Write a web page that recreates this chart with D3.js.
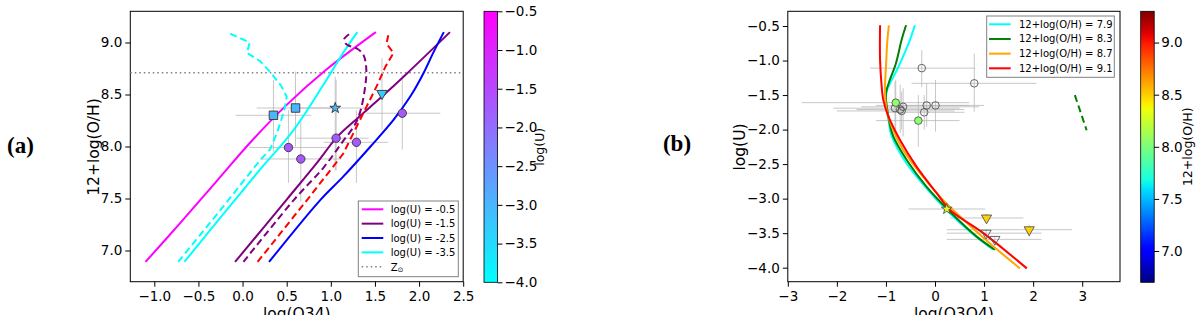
<!DOCTYPE html>
<html>
<head>
<meta charset="utf-8">
<script src="https://d3js.org/d3.v7.min.js"></script>
<style>
  body { margin: 0; background: #fff; }
  svg { display: block; font-family: 'DejaVu Sans', sans-serif; }
  .axis line { stroke: #000; }
  .axis text { fill: #000; font-size: 13.5px; font-family: 'DejaVu Sans', sans-serif; }
  .label { font-size: 15.5px; fill: #000; }
  .cblabel { font-size: 12.5px; fill: #000; }
  .legend text { font-size: 10px; fill: #000; }
  .err { stroke: #b4b4b4; stroke-opacity: 0.75; stroke-width: 1; fill: none; }
  .tag { font-family: 'Liberation Serif', serif; font-weight: bold; font-size: 23px; }
</style>
</head>
<body>
<svg id="chart" width="1200" height="315"></svg>
<script>
// ---- panel (a): log(O34) vs 12+log(O/H)
var aXTicks = [-1.0, -0.5, 0.0, 0.5, 1.0, 1.5, 2.0, 2.5];
var aYTicks = [7.0, 7.5, 8.0, 8.5, 9.0];
var uTicks = [-4.0, -3.5, -3.0, -2.5, -2.0, -1.5, -1.0, -0.5];
var zSun = 8.71;

var uMagenta = [[-1.10, 6.89], [-0.70, 7.27], [-0.30, 7.66], [0.10, 8.05], [0.50, 8.40], [0.95, 8.74], [1.51, 9.10]];
var uPurple = [[-0.085, 6.89], [0.50, 7.49], [0.84, 7.84], [1.07, 8.09], [1.30, 8.27], [1.58, 8.48], [1.86, 8.70], [2.35, 9.10]];
var uBlue = [[0.30, 6.89], [0.88, 7.485], [1.14, 7.71], [1.45, 8.00], [1.71, 8.255], [1.90, 8.48], [2.05, 8.705], [2.16, 8.90], [2.28, 9.10]];
var uCyan = [[-0.66, 6.89], [-0.20, 7.37], [0.20, 7.78], [0.58, 8.16], [0.95, 8.64], [1.14, 8.90], [1.30, 9.10]];
var uCyanDash = [[-0.73, 6.89], [-0.25, 7.39], [0.20, 7.87], [0.31, 7.97], [0.39, 8.13], [0.44, 8.26], [0.48, 8.38], [0.50, 8.48],
  [0.44, 8.58], [0.31, 8.72], [0.20, 8.82], [0.05, 8.90], [0.08, 9.00], [-0.18, 9.10]];
var uPurpleDash = [[0.01, 6.89], [0.58, 7.485], [0.92, 7.80], [1.12, 8.03], [1.30, 8.255], [1.39, 8.58], [1.40, 8.77],
  [1.37, 8.88], [1.30, 8.94], [1.18, 8.98], [1.15, 9.03], [1.24, 9.10]];
var uRedDash = [[0.17, 6.89], [0.73, 7.485], [1.14, 7.93], [1.33, 8.255], [1.52, 8.58], [1.62, 8.77], [1.71, 8.90], [1.63, 8.99], [1.66, 9.10]];

// x, y, x low, x high, y low, y high, log(U)
var aSquares = [[0.35, 8.30, -0.08, 0.78, 7.95, 8.64, -3.0], [0.60, 8.37, 0.16, 1.05, 8.00, 8.72, -3.0]];
var aStars = [[1.05, 8.37, 0.61, 1.45, 7.77, 8.67, -3.0]];
var aTriangles = [[1.58, 8.51, 1.58, 1.58, 8.16, 8.85, -3.3]];
var aCircles = [
  [0.52, 7.99, 0.08, 0.95, 7.65, 8.35, -1.7],
  [0.66, 7.88, 0.20, 1.12, 7.47, 8.25, -1.7],
  [1.06, 8.08, 0.61, 1.43, 7.77, 8.64, -1.7],
  [1.29, 8.04, 0.92, 1.65, 7.65, 8.35, -1.7],
  [1.81, 8.32, 1.40, 2.24, 7.97, 8.69, -1.7]
];

// ---- panel (b): log(O3O4) vs log(U)
var bXTicks = [-3, -2, -1, 0, 1, 2, 3];
var bYTicks = [-4.0, -3.5, -3.0, -2.5, -2.0, -1.5, -1.0, -0.5];
var ohTicks = [7.0, 7.5, 8.0, 8.5, 9.0];

var oh79 = [[-0.41, -0.49], [-0.51, -0.70], [-0.75, -1.10], [-0.985, -1.45], [-1.00, -1.62], [-0.95, -1.85], [-0.88, -2.10],
  [-0.60, -2.47], [-0.20, -2.83], [0.27, -3.19], [0.75, -3.50], [1.19, -3.74]];
var oh83 = [[-0.59, -0.49], [-0.68, -0.70], [-0.80, -1.05], [-0.92, -1.28], [-1.00, -1.475], [-0.95, -1.81], [-0.85, -2.10],
  [-0.577, -2.44], [-0.17, -2.83], [0.306, -3.19], [0.85, -3.55], [1.22, -3.74]];
var oh87 = [[-0.94, -0.49], [-0.97, -0.70], [-1.00, -1.10], [-1.02, -1.43], [-0.985, -1.72], [-0.88, -1.96], [-0.646, -2.30],
  [-0.306, -2.63], [0.10, -2.97], [0.51, -3.26], [1.12, -3.65], [1.73, -4.01]];
var oh91 = [[-1.12, -0.49], [-1.12, -0.99], [-1.09, -1.35], [-1.054, -1.57], [-0.95, -1.81], [-0.713, -2.15], [-0.373, -2.54],
  [0.034, -2.92], [0.306, -3.165], [0.985, -3.50], [1.87, -4.01]];
var oh83Dash = [[2.85, -1.50], [3.09, -2.01]];

// x, y, x low, x high, y low, y high (, 12+log(O/H))
var bOpenCircles = [
  [-0.27, -1.11, -1.32, 0.82, -1.38, -0.85],
  [0.80, -1.33, -0.48, 2.07, -1.74, -0.90],
  [-0.815, -1.69, -2.07, 0.50, -2.00, -1.30],
  [-0.71, -1.71, -1.60, 0.60, -2.05, -1.35],
  [-0.65, -1.67, -1.50, 0.90, -2.10, -1.40],
  [-0.68, -1.73, -2.00, 0.40, -2.00, -1.45],
  [-0.17, -1.65, -1.20, 0.70, -1.96, -1.33],
  [0.01, -1.65, -0.90, 1.00, -2.03, -1.28],
  [-0.22, -1.75, -1.00, 0.60, -2.00, -1.50]
];
var bFilledCircles = [[-0.80, -1.61, -2.72, 0.70, -2.05, -1.28, 8.05], [-0.34, -1.87, -1.20, 0.50, -2.25, -1.50, 8.05]];
var bStars = [[0.24, -3.15, -0.54, 1.02, -3.15, -3.15, 8.33]];
var bFilledTri = [[1.05, -3.28, 0.31, 1.80, -3.33, -3.22, 8.49], [1.92, -3.45, 0.24, 2.79, -3.55, -3.38, 8.49]];
var bOpenTri = [[1.04, -3.50, 0.24, 2.17, -3.55, -3.45], [1.22, -3.59, 0.24, 2.17, -3.63, -3.55]];

var chart = d3.select('#chart');

var cool = (t) => d3.rgb(255 * t, 255 * (1 - t), 255).formatHex();
var jetR = d3.scaleLinear().domain([0, 0.35, 0.66, 0.89, 1]).range([0, 0, 1, 1, 0.5]).clamp(true);
var jetG = d3.scaleLinear().domain([0, 0.125, 0.375, 0.64, 0.91, 1]).range([0, 0, 1, 1, 0, 0]).clamp(true);
var jetB = d3.scaleLinear().domain([0, 0.11, 0.34, 0.65, 1]).range([0.5, 1, 1, 0, 0]).clamp(true);
var jet = (t) => d3.rgb(255 * jetR(t), 255 * jetG(t), 255 * jetB(t)).formatHex();

var uColor = d3.scaleSequential(cool).domain([-4.0, -0.5]);
var ohColor = d3.scaleSequential(jet).domain([6.7, 9.3]);

var ax = d3.scaleLinear().domain([-1.272, 2.5]).range([130.3, 463.2]);
var ay = d3.scaleLinear().domain([6.7, 9.3]).range([281.7, 11.3]);
var bx = d3.scaleLinear().domain([-3.0, 3.77]).range([787.8, 1120]);
var by = d3.scaleLinear().domain([-4.203, -0.287]).range([281.7, 11.3]);

function frame(x, y) {
  chart.append('rect')
    .attr('x', x.range()[0]).attr('y', y.range()[1])
    .attr('width', x.range()[1] - x.range()[0])
    .attr('height', y.range()[0] - y.range()[1])
    .attr('fill', 'none').attr('stroke', '#000').attr('stroke-width', 1);
}

function axes(x, y, xTicks, yTicks, xFmt, yFmt) {
  chart.append('g')
    .attr('class', 'axis')
    .attr('transform', 'translate(0,' + y.range()[0] + ')')
    .call(d3.axisBottom(x).tickValues(xTicks).tickFormat(xFmt).tickSize(5).tickSizeOuter(0).tickPadding(5))
    .call((g) => g.select('.domain').remove());
  chart.append('g')
    .attr('class', 'axis')
    .attr('transform', 'translate(' + x.range()[0] + ',0)')
    .call(d3.axisLeft(y).tickValues(yTicks).tickFormat(yFmt).tickSize(5).tickSizeOuter(0).tickPadding(3))
    .call((g) => g.select('.domain').remove());
  chart.selectAll('.axis').attr('font-size', null).attr('font-family', null);
}

function colorbar(id, scale, colorScale, x0, ticks, label, labelX) {
  var grad = chart.append('defs').append('linearGradient')
    .attr('id', id).attr('x1', 0).attr('y1', 1).attr('x2', 0).attr('y2', 0);
  var dom = scale.domain();
  d3.range(0, 1.0001, 0.02).forEach((t) => {
    grad.append('stop').attr('offset', t).attr('stop-color', colorScale(dom[0] + t * (dom[1] - dom[0])));
  });
  chart.append('rect')
    .attr('x', x0).attr('y', scale.range()[1])
    .attr('width', 13.5).attr('height', scale.range()[0] - scale.range()[1])
    .attr('fill', 'url(#' + id + ')').attr('stroke', '#000').attr('stroke-width', 0.8);
  chart.append('g')
    .attr('class', 'axis')
    .attr('transform', 'translate(' + (x0 + 13.5) + ',0)')
    .call(d3.axisRight(scale).tickValues(ticks).tickFormat(d3.format('.1f')).tickSize(5).tickSizeOuter(0).tickPadding(2))
    .call((g) => g.select('.domain').remove());
  chart.selectAll('.axis').attr('font-size', null).attr('font-family', null);
  chart.append('text')
    .attr('class', 'cblabel')
    .attr('transform', 'translate(' + labelX + ',' + (scale.range()[0] + scale.range()[1]) / 2 + ') rotate(-90)')
    .attr('text-anchor', 'middle').attr('dominant-baseline', 'central')
    .text(label);
}

function errorBars(pts, x, y) {
  var g = chart.append('g');
  pts.forEach((p) => {
    if (p[3] > p[2]) {
      g.append('line').attr('class', 'err').attr('x1', x(p[2])).attr('x2', x(p[3])).attr('y1', y(p[1])).attr('y2', y(p[1]));
    }
    if (p[5] > p[4]) {
      g.append('line').attr('class', 'err').attr('x1', x(p[0])).attr('x2', x(p[0])).attr('y1', y(p[4])).attr('y2', y(p[5]));
    }
  });
}

function curve(data, x, y, color, dashed, smooth) {
  chart.append('path')
    .datum(data)
    .attr('fill', 'none')
    .attr('stroke', color)
    .attr('stroke-width', 2)
    .attr('stroke-dasharray', dashed ? '7,4' : null)
    .attr('d', d3.line()
      .x((d) => x(d[0]))
      .y((d) => y(d[1]))
      .curve(smooth ? d3.curveCatmullRom.alpha(0.5) : d3.curveLinear));
}

function markers(pts, x, y, type, size, fill, stroke, rot) {
  chart.append('g').selectAll('path')
    .data(pts)
    .join('path')
    .attr('transform', (d) => 'translate(' + x(d[0]) + ',' + y(d[1]) + ')' + (rot ? ' rotate(180)' : ''))
    .attr('d', d3.symbol(type, size))
    .attr('fill', fill)
    .attr('stroke', stroke)
    .attr('stroke-width', 0.9);
}

// ---------- panel (a)
frame(ax, ay);
axes(ax, ay, aXTicks, aYTicks, d3.format('.1f'), d3.format('.1f'));

chart.append('line')
  .attr('x1', ax.range()[0]).attr('x2', ax.range()[1])
  .attr('y1', ay(zSun)).attr('y2', ay(zSun))
  .attr('stroke', '#808080').attr('stroke-width', 1.5).attr('stroke-dasharray', '1.5,3');

errorBars(aSquares.concat(aStars, aTriangles, aCircles), ax, ay);

curve(uMagenta, ax, ay, '#ff00ff', false, true);
curve(uPurple, ax, ay, '#800080', false, true);
curve(uBlue, ax, ay, '#0000ff', false, true);
curve(uCyan, ax, ay, '#00ffff', false, true);
curve(uCyanDash, ax, ay, '#00ffff', true, false);
curve(uPurpleDash, ax, ay, '#800080', true, true);
curve(uRedDash, ax, ay, '#ff0000', true, false);

markers(aSquares, ax, ay, d3.symbolSquare, 72, (d) => uColor(d[6]), '#333', false);
markers(aStars, ax, ay, d3.symbolStar, 36, (d) => uColor(d[6]), '#333', false);
markers(aTriangles, ax, ay, d3.symbolTriangle, 48, (d) => uColor(d[6]), '#333', true);
markers(aCircles, ax, ay, d3.symbolCircle, 55, (d) => uColor(d[6]), '#333', false);

chart.append('text').attr('class', 'label')
  .attr('transform', 'translate(93.5,147) rotate(-90)')
  .attr('text-anchor', 'middle').attr('dominant-baseline', 'central')
  .text('12+log(O/H)');
chart.append('text').attr('class', 'label')
  .attr('x', (ax.range()[0] + ax.range()[1]) / 2).attr('y', 319)
  .attr('text-anchor', 'middle')
  .text('log(O34)');
chart.append('text').attr('class', 'tag')
  .attr('x', 20.5).attr('y', 153).attr('text-anchor', 'middle')
  .text('(a)');

// legend (a)
var legA = [['#ff00ff', 'log(U) = -0.5'], ['#800080', 'log(U) = -1.5'], ['#0000ff', 'log(U) = -2.5'], ['#00ffff', 'log(U) = -3.5']];
var la = chart.append('g').attr('class', 'legend');
la.append('rect').attr('x', 358.3).attr('y', 201).attr('width', 100).attr('height', 75.7)
  .attr('fill', '#fff').attr('stroke', '#808080').attr('stroke-width', 1);
legA.forEach((d, i) => {
  var yy = 209.3 + i * 14.35;
  la.append('line').attr('x1', 361.7).attr('x2', 383.3).attr('y1', yy).attr('y2', yy)
    .attr('stroke', d[0]).attr('stroke-width', 2);
  la.append('text').attr('x', 390.7).attr('y', yy).attr('dominant-baseline', 'central').text(d[1]);
});
var yz = 209.3 + 4 * 14.35;
la.append('line').attr('x1', 361.7).attr('x2', 383.3).attr('y1', yz).attr('y2', yz)
  .attr('stroke', '#808080').attr('stroke-width', 1.5).attr('stroke-dasharray', '1.5,3');
var zt = la.append('text').attr('x', 390.7).attr('y', yz).attr('dominant-baseline', 'central');
zt.append('tspan').text('Z');
zt.append('tspan').attr('dy', 3).attr('font-size', '7px').text('\u2299');

colorbar('gradU', d3.scaleLinear().domain([-4.0, -0.5]).range([282.3, 11.3]), uColor, 484, uTicks, 'log(U)', 539);

// ---------- panel (b)
frame(bx, by);
axes(bx, by, bXTicks, bYTicks, d3.format('d'), d3.format('.1f'));

errorBars(bOpenCircles.concat(bFilledCircles, bStars, bFilledTri, bOpenTri), bx, by);

curve(oh79, bx, by, '#00ffff', false, true);
curve(oh83, bx, by, '#008000', false, true);
curve(oh87, bx, by, '#ffa500', false, true);
curve(oh91, bx, by, '#ff0000', false, true);
curve(oh83Dash, bx, by, '#008000', true, false);

markers(bOpenCircles, bx, by, d3.symbolCircle, 45, 'none', '#555', false);
markers(bFilledCircles, bx, by, d3.symbolCircle, 45, (d) => ohColor(d[6]), '#555', false);
markers(bStars, bx, by, d3.symbolStar, 36, (d) => ohColor(d[6]), '#555', false);
markers(bFilledTri, bx, by, d3.symbolTriangle, 45, (d) => ohColor(d[6]), '#555', true);
markers(bOpenTri, bx, by, d3.symbolTriangle, 45, 'none', '#555', true);

chart.append('text').attr('class', 'label')
  .attr('transform', 'translate(740,147) rotate(-90)')
  .attr('text-anchor', 'middle').attr('dominant-baseline', 'central')
  .text('log(U)');
chart.append('text').attr('class', 'label')
  .attr('x', (bx.range()[0] + bx.range()[1]) / 2).attr('y', 319)
  .attr('text-anchor', 'middle')
  .text('log(O3O4)');
chart.append('text').attr('class', 'tag')
  .attr('x', 677).attr('y', 151).attr('text-anchor', 'middle')
  .text('(b)');

// legend (b)
var legB = [['#00ffff', '12+log(O/H) = 7.9'], ['#008000', '12+log(O/H) = 8.3'], ['#ffa500', '12+log(O/H) = 8.7'], ['#ff0000', '12+log(O/H) = 9.1']];
var lb = chart.append('g').attr('class', 'legend');
lb.append('rect').attr('x', 986.7).attr('y', 16).attr('width', 127.6).attr('height', 61.3)
  .attr('fill', '#fff').attr('stroke', '#808080').attr('stroke-width', 1);
legB.forEach((d, i) => {
  var yy = 24.3 + i * 14.67;
  lb.append('line').attr('x1', 989).attr('x2', 1010.7).attr('y1', yy).attr('y2', yy)
    .attr('stroke', d[0]).attr('stroke-width', 2);
  lb.append('text').attr('x', 1019).attr('y', yy).attr('dominant-baseline', 'central').text(d[1]);
});

colorbar('gradOH', d3.scaleLinear().domain([6.7, 9.3]).range([282.3, 11.3]), ohColor, 1140.7, ohTicks, '12+log(O/H)', 1187.5);
</script>
</body>
</html>
